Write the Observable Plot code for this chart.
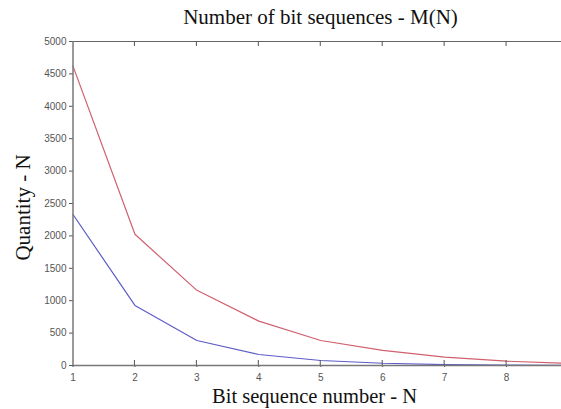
<!DOCTYPE html>
<html>
<head>
<meta charset="utf-8">
<script src="https://cdn.jsdelivr.net/npm/d3@7"></script>
<script src="https://cdn.jsdelivr.net/npm/@observablehq/plot@0.6"></script>
<style>
  html, body { margin: 0; padding: 0; background: #fff; overflow: hidden; }
  #chart { position: relative; width: 561px; height: 409px; }
  #chart svg { overflow: hidden; }
  .title { position: absolute; left: 0; width: 561px; text-align: center; font-family: "Liberation Serif", "DejaVu Serif", serif; color: #111; white-space: nowrap; }
</style>
</head>
<body>
<div id="chart"></div>
<script>
const N = [1, 2, 3, 4, 5, 6, 7, 8, 9];
const redSeries = [4620, 2025, 1160, 685, 386, 232, 128, 66, 33];
const blueSeries = [2330, 927, 386, 170, 77, 35, 15, 5, 2];
const xTicks = [1, 2, 3, 4, 5, 6, 7, 8];
const yTicks = [0, 500, 1000, 1500, 2000, 2500, 3000, 3500, 4000, 4500, 5000];
const titleText = "Number of bit sequences - M(N)";
const xLabel = "Bit sequence number - N";
const yLabel = "Quantity - N";

const rows = [];
N.forEach((n, i) => {
  rows.push({n, v: redSeries[i], s: "red"});
  rows.push({n, v: blueSeries[i], s: "blue"});
});

const plot = Plot.plot({
  width: 561,
  height: 409,
  marginLeft: 73,
  marginTop: 41,
  marginBottom: 44,
  marginRight: 0,
  style: {fontFamily: "'Liberation Sans', Arial, sans-serif", fontSize: "10px", background: "transparent", color: "#555"},
  x: {domain: [1, 9], range: [72.5, 568], ticks: xTicks, label: null},
  y: {domain: [0, 5000], range: [365, 41], ticks: yTicks, label: null},
  marks: [
    Plot.ruleY([5000], {stroke: "#666", strokeWidth: 1}),
    Plot.line(rows.filter(d => d.s === "red"), {x: "n", y: "v", stroke: "#d0606e", strokeWidth: 1.2}),
    Plot.line(rows.filter(d => d.s === "blue"), {x: "n", y: "v", stroke: "#5c5cc8", strokeWidth: 1.2}),
    Plot.axisX({ticks: xTicks, tickSize: 2, tickPadding: 6, stroke: "#444", color: "#555", fontSize: 10, tickFormat: d3.format("d")}),
    Plot.axisY({ticks: yTicks, tickSize: 4, tickPadding: 3, color: "#555", fontSize: 10, tickFormat: d3.format("d")}),
    Plot.ruleY([0], {stroke: "#777", strokeWidth: 1.5}),
    Plot.ruleX([1], {stroke: "#777", strokeWidth: 1.5})
  ]
});

const chart = document.getElementById("chart");
chart.appendChild(plot);

const svg = d3.select(plot);
const xsc = plot.scale("x");
// top inward ticks
svg.append("g").selectAll("line").data(xTicks.slice(1)).join("line")
  .attr("x1", d => xsc.apply(d)).attr("x2", d => xsc.apply(d))
  .attr("y1", 41).attr("y2", 46).attr("stroke", "#555");
// bottom inward ticks
svg.append("g").selectAll("line").data(xTicks.slice(1)).join("line")
  .attr("x1", d => xsc.apply(d)).attr("x2", d => xsc.apply(d))
  .attr("y1", 360).attr("y2", 365).attr("stroke", "#555");

const t = document.createElement("div");
t.className = "title"; t.textContent = titleText;
t.style.top = "5px"; t.style.fontSize = "21px"; t.style.left = "40px";
chart.appendChild(t);

const xl = document.createElement("div");
xl.className = "title"; xl.textContent = xLabel;
xl.style.top = "385px"; xl.style.fontSize = "20.5px"; xl.style.left = "34px";
chart.appendChild(xl);

const yl = document.createElement("div");
yl.className = "title"; yl.textContent = yLabel;
yl.style.width = "200px"; yl.style.fontSize = "21px";
yl.style.left = (23 - 100) + "px"; yl.style.top = (208 - 13) + "px";
yl.style.transform = "rotate(-90deg)";
chart.appendChild(yl);
</script>
</body>
</html>
